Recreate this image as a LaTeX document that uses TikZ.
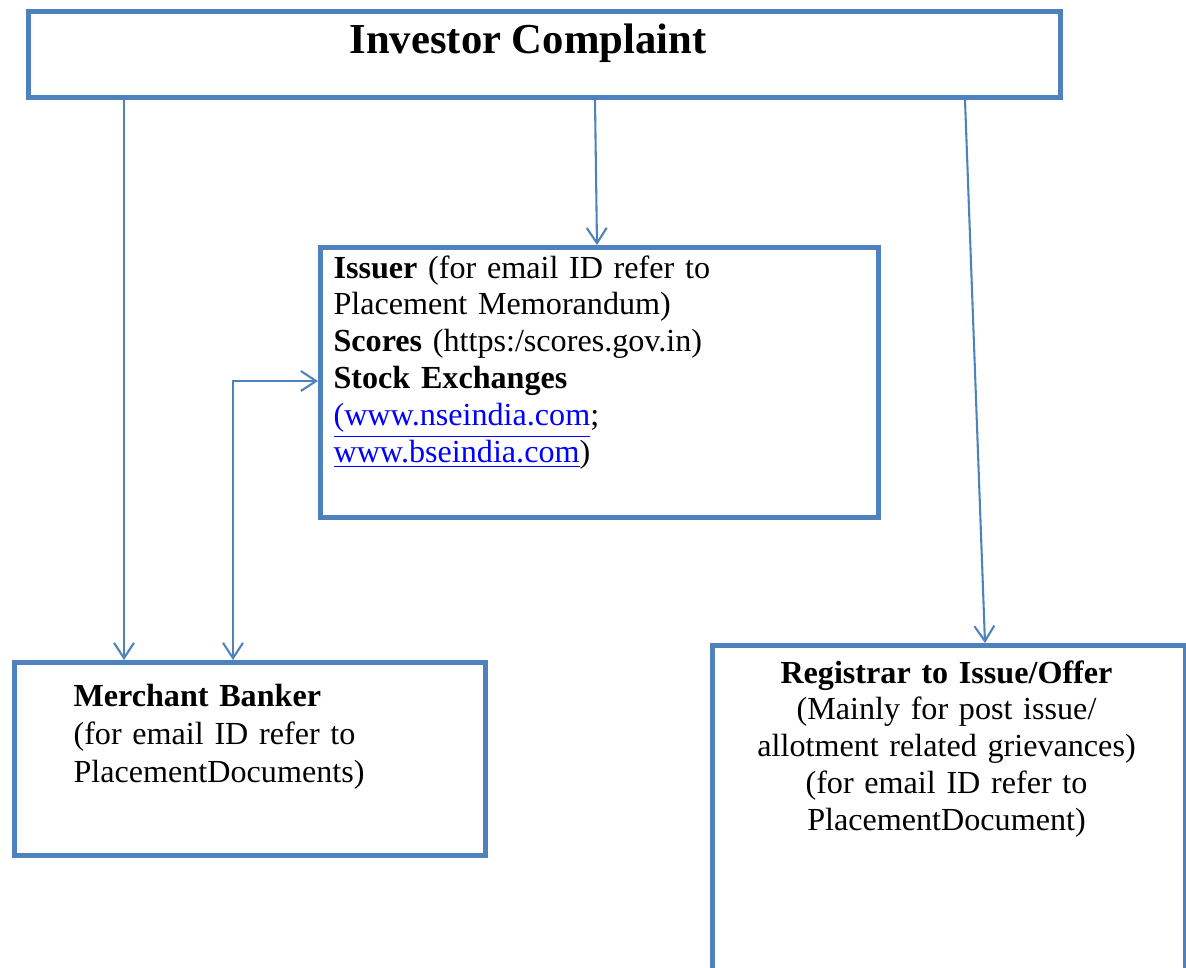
\documentclass[tikz,border=0pt]{standalone}
\usepackage{fontspec}
\setmainfont{Liberation Serif}
\usetikzlibrary{arrows.meta,positioning}

\definecolor{boxblue}{RGB}{79,129,189}
\definecolor{urlblue}{RGB}{0,0,255}
\newcommand{\pxu}{0.361pt}
\newcommand{\weblink}[1]{\textcolor{urlblue}{\underline{#1}}}

\tikzset{
  box/.style={draw=boxblue, line width=1.8pt, rectangle, inner sep=0pt, anchor=north west},
  link/.style={draw=boxblue, line width=0.75pt, -{Straight Barb[length=5.5pt,width=7.2pt]}},
  bodytext/.style={inner sep=0pt, text width=#1, font=\fontsize{11.6}{13.3}\selectfont}
}

\begin{document}
\begin{tikzpicture}[x=0.361pt, y=-0.361pt]
    \useasboundingbox (0,0) rectangle (1186,967);

    % Boxes
    \node[box, minimum width=1032*\pxu, minimum height=86*\pxu] (complaint) at (26,9) {};
    \node[box, minimum width=558*\pxu, minimum height=270*\pxu] (issuer) at (318,245) {};
    \node[box, minimum width=471*\pxu, minimum height=193*\pxu] (banker) at (12,660) {};
    \node[box, minimum width=473*\pxu, minimum height=420*\pxu] (registrar) at (710,643) {};

    % Texts
    \node[anchor=base, inner sep=0pt, font=\fontsize{15.4}{18}\selectfont\bfseries] (title) at (528,53) {Investor Complaint};
    \node[bodytext=520*\pxu, anchor=base west, align=left] (issuertext) at (333,278)
      {\textbf{Issuer} (for email ID refer to\\
       Placement Memorandum)\\
       \textbf{Scores} (https:/scores.gov.in)\\
       \textbf{Stock Exchanges}\\
       \weblink{(www.nseindia.com};\\
       \weblink{www.bseindia.com})};
    \node[bodytext=400*\pxu, anchor=base west, align=left, font=\fontsize{11.6}{13.8}\selectfont] (bankertext) at (73,706)
      {\textbf{Merchant Banker}\\
       (for email ID refer to\\
       PlacementDocuments)};
    \node[bodytext=440*\pxu, anchor=base, align=center] (registrartext) at (946.5,683)
      {\textbf{Registrar to Issue/Offer}\\
       (Mainly for post issue/\\
       allotment related grievances)\\
       (for email ID refer to\\
       PlacementDocument)};

    % Arrows
    \draw[link] (124,0 |- complaint.south) -- (124,0 |- banker.north);
    \draw[link] (595,0 |- complaint.south) -- (597,0 |- issuer.north);
    \draw[link] (965,0 |- complaint.south) -- (985,0 |- registrar.north);
    \draw[link, {Straight Barb[length=5.5pt,width=7.2pt]}-{Straight Barb[length=5.5pt,width=7.2pt]}]
      (233,0 |- banker.north) |- (issuer.west |- 0,381);
\end{tikzpicture}
\end{document}
